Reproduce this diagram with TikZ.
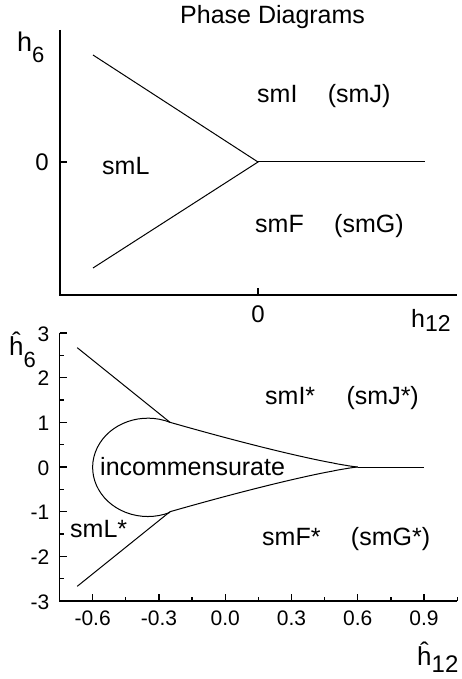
\documentclass[tikz,border=0pt]{standalone}
\usepackage{fontspec}
\setmainfont{Liberation Sans}
\usetikzlibrary{positioning}
\tikzset{
  phaxis/.style={line width=1.3pt},
  phline/.style={line width=1pt},
  phregion/.style={font=\fontsize{25}{28}\selectfont, inner sep=0pt},
  phtick/.style={font=\fontsize{21}{24}\selectfont, inner sep=0pt},
  phzero/.style={font=\fontsize{24}{26}\selectfont, inner sep=0pt},
  phsym/.style={inner sep=0pt, anchor=base west}
}

\begin{document}
\begin{tikzpicture}[x=1pt,y=-1pt]
  \useasboundingbox (0,0) rectangle (461,679);
  \node[phregion, anchor=base west] (title) at (180,24) {Phase Diagrams};

  % upper panel
  \draw[phaxis] (60,30) -- (60,295) -- (457,295);
  \draw[phaxis] (258,295) -- (258,288);
  \draw[phaxis] (60,162) -- (67,162);
  \coordinate (tip) at (258,162);
  \draw[phline] (93,55) -- (tip) -- (93,268);
  \draw[phline] (tip) -- (425,162);
  \node[phzero] (zeroy) at (42,162) {0};
  \node[phzero] (zerox) at (258,314) {0};
  \node[phsym] (h6) at (17,52)
    {\fontsize{27}{30}\selectfont h\raisebox{-11pt}{\fontsize{22}{24}\selectfont 6}};
  \node[phsym] (h12) at (411,327)
    {\fontsize{25}{26}\selectfont h\raisebox{-4pt}{\fontsize{23}{24}\selectfont 12}};
  \node[phregion, anchor=base west] (smL) at (102,175) {smL};
  \node[phregion, anchor=base west] (smI) at (257,103) {smI};
  \node[phregion, right=30pt of smI.base east, anchor=base west] (smJ) {(smJ)};
  \node[phregion, anchor=base west] (smF) at (255,232) {smF};
  \node[phregion, right=30pt of smF.base east, anchor=base west] (smG) {(smG)};

  % lower panel, data coordinates
  \begin{scope}[shift={(225.2,467)}, x=220.9pt, y=44.7pt]
    \draw[phaxis] (-0.75,3) -- (-0.75,-3) -- (1.05,-3);
    \foreach \t/\lab [count=\i] in {-0.6/-0.6,-0.3/-0.3,0/0.0,0.3/0.3,0.6/0.6,0.9/0.9} {
      \draw[phaxis] (\t,-3) -- ++(0,7pt);
      \node[phtick, anchor=base] (xl\i) at ([yshift=-24pt]\t,-3) {\lab};
    }
    \foreach \t in {-0.45,-0.15,0.15,0.45,0.75,1.05}
      \draw[phaxis] (\t,-3) -- ++(0,4pt);
    \foreach \t [count=\i] in {-3,...,3} {
      \draw[phaxis] (-0.75,\t) -- ++(7pt,0);
      \node[phtick, anchor=east] (yl\i) at ([xshift=-10pt,yshift=-1pt]-0.75,\t) {\t};
    }
    \foreach \t in {-2.5,-1.5,...,2.5}
      \draw[phaxis] (-0.75,\t) -- ++(4pt,0);
    \coordinate (cusp) at (0.6,0);
    \coordinate (kinkU) at (-0.25,1);
    \coordinate (kinkD) at (-0.25,-1);
    \draw[phline] (-0.67,2.67) -- (kinkU);
    \draw[phline] (-0.67,-2.67) -- (kinkD);
    \draw[phline] plot[domain=-0.25:0.597, samples=80] (\x,{((0.6-\x)/0.85)^1.2}) -- (cusp);
    \draw[phline] plot[domain=-0.25:0.597, samples=80] (\x,{-((0.6-\x)/0.85)^1.2}) -- (cusp);
    \draw[phline] (cusp) -- (0.9,0);
    \draw[phline] (kinkU) arc[start angle=66.4, end angle=293.6, x radius=0.25, y radius=1.1];
  \end{scope}

  \node[phsym] (hh6) at (9,355)
    {\fontsize{26}{30}\selectfont \^{h}\raisebox{-12pt}{\fontsize{22}{24}\selectfont 6}};
  \node[phsym] (hh12) at (417,665)
    {\fontsize{26}{30}\selectfont \^{h}\raisebox{-7pt}{\fontsize{24}{24}\selectfont 12}};
  \node[phregion, anchor=base west] (inc) at (100,475) {incommensurate};
  \node[phregion, anchor=base west] (smLs) at (70,537) {smL*};
  \node[phregion, anchor=base west] (smIs) at (265,404) {smI*};
  \node[phregion, right=31pt of smIs.base east, anchor=base west] (smJs) {(smJ*)};
  \node[phregion, anchor=base west] (smFs) at (262,545) {smF*};
  \node[phregion, right=30pt of smFs.base east, anchor=base west] (smGs) {(smG*)};
\end{tikzpicture}
\end{document}
